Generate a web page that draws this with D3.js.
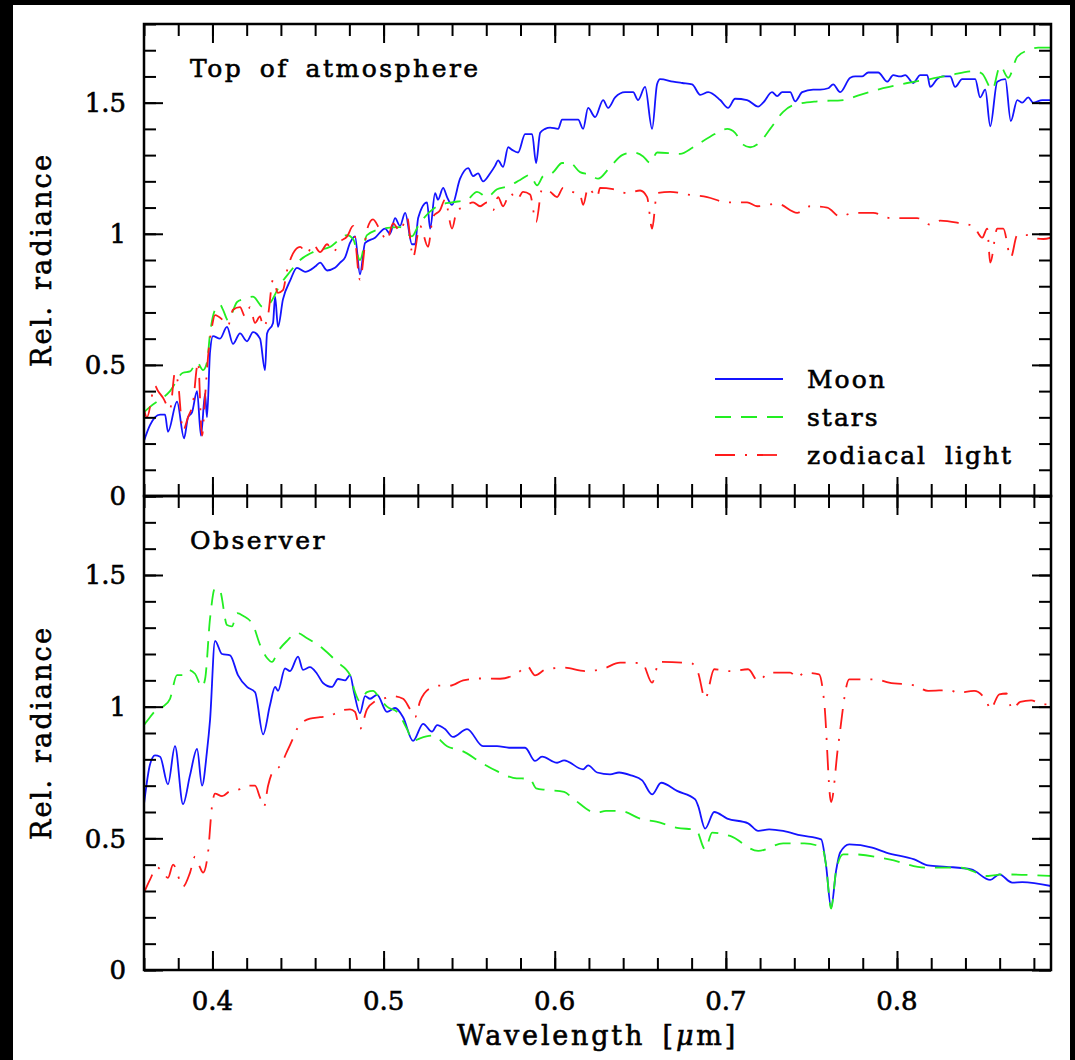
<!DOCTYPE html>
<html>
<head>
<meta charset="utf-8">
<script src="https://cdn.jsdelivr.net/npm/d3@7"></script>
<style>
  body { margin: 0; background: #000; }
  svg { display: block; }
  text { font-family: "DejaVu Serif", serif; fill: #000; stroke: #000; stroke-width: 0.6px; }
</style>
</head>
<body>
<div id="chart"></div>
<script>
// spectra: [wavelength in micron, relative radiance]
const topMoon = [
  [0.360,0.21],[0.3635,0.27],[0.3664,0.30],[0.3694,0.31],[0.3723,0.31],[0.3740,0.245],[0.3793,0.36],
  [0.3834,0.22],[0.3857,0.30],[0.3881,0.32],[0.3910,0.40],[0.3933,0.23],[0.3957,0.39],[0.3968,0.30],
  [0.3986,0.55],[0.4003,0.61],[0.4044,0.60],[0.4085,0.645],[0.4120,0.58],[0.4161,0.62],[0.4202,0.59],
  [0.4237,0.625],[0.4278,0.60],[0.4307,0.48],[0.4319,0.62],[0.4354,0.66],[0.4366,0.76],[0.4383,0.645],
  [0.4412,0.75],[0.4453,0.82],[0.4494,0.87],[0.4541,0.855],[0.4600,0.875],[0.4629,0.89],[0.4670,0.86],
  [0.4716,0.87],[0.4746,0.89],[0.4775,0.91],[0.4804,0.965],[0.4833,0.99],[0.4862,0.845],[0.4892,0.965],
  [0.4950,0.985],[0.5009,1.02],[0.5038,1.0],[0.5067,1.06],[0.5096,1.03],[0.5126,1.08],[0.5166,0.96],
  [0.5184,0.96],[0.5202,1.06],[0.5254,1.12],[0.5272,1.02],[0.5301,1.155],[0.5318,1.13],[0.5348,1.175],
  [0.5371,1.14],[0.5400,1.11],[0.5447,1.21],[0.5494,1.25],[0.5523,1.22],[0.5552,1.23],[0.5581,1.20],
  [0.5622,1.23],[0.5652,1.26],[0.5669,1.28],[0.5698,1.255],[0.5728,1.33],[0.5751,1.32],[0.5786,1.31],
  [0.5827,1.38],[0.5868,1.38],[0.5891,1.27],[0.5915,1.385],[0.5944,1.40],[0.5973,1.405],[0.6020,1.40],
  [0.6043,1.435],[0.6102,1.435],[0.6137,1.435],[0.6166,1.40],[0.6195,1.48],[0.6236,1.445],[0.6283,1.51],
  [0.6312,1.48],[0.6353,1.52],[0.6411,1.54],[0.6458,1.54],[0.6487,1.51],[0.6528,1.56],[0.6569,1.40],
  [0.6598,1.57],[0.6616,1.59],[0.6692,1.58],[0.6745,1.575],[0.6803,1.57],[0.6850,1.53],[0.6897,1.54],
  [0.6967,1.51],[0.7013,1.48],[0.7054,1.515],[0.7124,1.51],[0.7189,1.485],[0.7218,1.50],[0.7270,1.54],
  [0.7300,1.525],[0.7329,1.54],[0.7376,1.54],[0.7405,1.505],[0.7446,1.54],[0.7510,1.55],[0.7551,1.55],
  [0.7598,1.555],[0.7627,1.57],[0.7668,1.54],[0.7727,1.595],[0.7756,1.60],[0.7797,1.60],[0.7832,1.615],
  [0.7890,1.615],[0.7943,1.58],[0.7978,1.605],[0.8019,1.60],[0.8048,1.605],[0.8095,1.575],[0.8136,1.605],
  [0.8177,1.605],[0.8194,1.56],[0.8235,1.59],[0.8264,1.60],[0.8311,1.60],[0.8340,1.56],[0.8381,1.59],
  [0.8457,1.59],[0.8486,1.52],[0.8516,1.55],[0.8545,1.41],[0.8586,1.58],[0.8633,1.59],[0.8665,1.43],
  [0.8703,1.51],[0.8732,1.50],[0.8767,1.52],[0.8796,1.50],[0.8849,1.51],[0.890,1.51]
];
const topStars = [
  [0.360,0.32],[0.3635,0.34],[0.3752,0.40],[0.3828,0.47],[0.3869,0.475],[0.3910,0.51],[0.3945,0.48],
  [0.3968,0.51],[0.3986,0.62],[0.4015,0.71],[0.4044,0.73],[0.4062,0.71],[0.4091,0.67],[0.4144,0.74],
  [0.4179,0.75],[0.4237,0.76],[0.4296,0.72],[0.4336,0.735],[0.4395,0.805],[0.4453,0.855],[0.4512,0.90],
  [0.4588,0.93],[0.4687,0.95],[0.4787,0.995],[0.4822,0.98],[0.4862,0.90],[0.4903,0.995],[0.4997,1.02],
  [0.5096,1.025],[0.5166,0.99],[0.5202,1.03],[0.5330,1.11],[0.5400,1.12],[0.5488,1.13],[0.5546,1.16],
  [0.5605,1.14],[0.5663,1.17],[0.5722,1.18],[0.5798,1.205],[0.5856,1.225],[0.5897,1.185],[0.5932,1.22],
  [0.5991,1.235],[0.6043,1.27],[0.6090,1.27],[0.6148,1.235],[0.6207,1.225],[0.6254,1.21],[0.6318,1.25],
  [0.6394,1.30],[0.6458,1.31],[0.6517,1.295],[0.6558,1.27],[0.6598,1.31],[0.6733,1.305],[0.6809,1.33],
  [0.6908,1.37],[0.7008,1.40],[0.7054,1.385],[0.7101,1.34],[0.7142,1.33],[0.7200,1.35],[0.7259,1.40],
  [0.7335,1.465],[0.7393,1.49],[0.7534,1.505],[0.7686,1.51],[0.7785,1.53],[0.7919,1.555],[0.8060,1.575],
  [0.8194,1.59],[0.8311,1.605],[0.8457,1.62],[0.8498,1.61],[0.8557,1.55],[0.8603,1.64],[0.8650,1.595],
  [0.8703,1.675],[0.8767,1.70],[0.8825,1.71],[0.890,1.71]
];
const topZodi = [
  [0.360,0.33],[0.3617,0.30],[0.3664,0.42],[0.3682,0.40],[0.3711,0.375],[0.3752,0.33],[0.3781,0.47],
  [0.3799,0.43],[0.3828,0.25],[0.3857,0.30],[0.3886,0.355],[0.3916,0.51],[0.3939,0.23],[0.3957,0.38],
  [0.3974,0.53],[0.3997,0.645],[0.4015,0.69],[0.4062,0.67],[0.4091,0.65],[0.4120,0.71],[0.4161,0.72],
  [0.4190,0.685],[0.4220,0.72],[0.4249,0.66],[0.4278,0.685],[0.4296,0.645],[0.4325,0.69],[0.4354,0.825],
  [0.4383,0.775],[0.4412,0.785],[0.4436,0.86],[0.4471,0.925],[0.4512,0.95],[0.4553,0.925],[0.4588,0.96],
  [0.4629,0.93],[0.4670,0.96],[0.4705,0.93],[0.4746,0.97],[0.4787,0.99],[0.4822,1.03],[0.4862,0.825],
  [0.4903,1.015],[0.4938,1.055],[0.4979,1.015],[0.5020,0.975],[0.5055,1.04],[0.5096,1.01],[0.5137,1.065],
  [0.5172,0.91],[0.5213,1.03],[0.5260,0.95],[0.5289,1.065],[0.5330,1.09],[0.5359,1.13],[0.5400,1.02],
  [0.5429,1.09],[0.5465,1.10],[0.5523,1.12],[0.5564,1.105],[0.5605,1.12],[0.5640,1.09],[0.5669,1.14],
  [0.5698,1.105],[0.5739,1.155],[0.5780,1.13],[0.5815,1.16],[0.5856,1.15],[0.5891,1.045],[0.5926,1.17],
  [0.5973,1.16],[0.6014,1.14],[0.6049,1.175],[0.6102,1.16],[0.6148,1.15],[0.6166,1.11],[0.6195,1.175],
  [0.6248,1.14],[0.6265,1.175],[0.6341,1.17],[0.6423,1.155],[0.6499,1.165],[0.6540,1.14],[0.6569,1.02],
  [0.6598,1.155],[0.6674,1.16],[0.6774,1.15],[0.6891,1.14],[0.7008,1.12],[0.7124,1.12],[0.7183,1.105],
  [0.7300,1.115],[0.7417,1.08],[0.7493,1.105],[0.7592,1.10],[0.7668,1.065],[0.7744,1.08],[0.7861,1.08],
  [0.7960,1.06],[0.8036,1.06],[0.8118,1.06],[0.8194,1.035],[0.8253,1.05],[0.8370,1.04],[0.8445,1.03],
  [0.8498,0.985],[0.8527,1.02],[0.8545,0.89],[0.8586,1.02],[0.8621,1.02],[0.8665,0.91],[0.8703,0.995],
  [0.8761,0.995],[0.8796,0.985],[0.8855,0.98],[0.890,0.985]
];
const obsMoon = [
  [0.360,0.63],[0.3635,0.78],[0.3664,0.815],[0.3694,0.81],[0.3740,0.705],[0.3781,0.85],[0.3828,0.63],
  [0.3869,0.74],[0.3910,0.84],[0.3939,0.70],[0.3968,0.83],[0.3986,0.95],[0.4015,1.25],[0.4056,1.20],
  [0.4103,1.195],[0.4149,1.12],[0.4202,1.075],[0.4249,1.055],[0.4296,0.895],[0.4336,1.005],[0.4366,1.075],
  [0.4383,1.06],[0.4424,1.145],[0.4453,1.135],[0.4500,1.19],[0.4529,1.14],[0.4570,1.15],[0.4611,1.125],
  [0.4646,1.09],[0.4699,1.075],[0.4734,1.105],[0.4775,1.10],[0.4804,1.12],[0.4827,1.055],[0.4862,0.975],
  [0.4892,1.04],[0.4921,1.03],[0.4962,1.045],[0.5020,0.98],[0.5067,0.995],[0.5114,0.96],[0.5172,0.87],
  [0.5231,0.935],[0.5283,0.905],[0.5313,0.93],[0.5359,0.915],[0.5406,0.885],[0.5488,0.915],[0.5581,0.85],
  [0.5663,0.85],[0.5733,0.844],[0.5827,0.844],[0.5885,0.794],[0.5926,0.81],[0.6014,0.787],[0.6055,0.796],
  [0.6166,0.762],[0.6195,0.777],[0.6248,0.75],[0.6324,0.743],[0.6376,0.75],[0.6446,0.739],[0.6511,0.72],
  [0.6569,0.667],[0.6622,0.711],[0.6715,0.68],[0.6821,0.648],[0.6838,0.623],[0.6879,0.537],[0.6932,0.60],
  [0.7008,0.575],[0.7130,0.557],[0.7189,0.528],[0.7253,0.534],[0.7335,0.528],[0.7440,0.511],[0.7557,0.496],
  [0.7585,0.40],[0.7615,0.237],[0.7645,0.38],[0.7668,0.446],[0.7721,0.477],[0.7855,0.465],[0.7937,0.446],
  [0.8101,0.42],[0.8182,0.397],[0.8288,0.392],[0.8434,0.382],[0.8545,0.342],[0.8598,0.363],[0.8673,0.332],
  [0.8732,0.334],[0.890,0.319]
];
const obsStars = [
  [0.360,0.93],[0.3635,0.96],[0.3676,0.99],[0.3711,1.0],[0.3752,1.03],[0.3793,1.12],[0.3828,1.12],
  [0.3857,1.14],[0.3898,1.125],[0.3939,1.075],[0.3957,1.105],[0.3986,1.335],[0.4015,1.45],[0.4044,1.44],
  [0.4085,1.31],[0.4114,1.305],[0.4144,1.355],[0.4179,1.345],[0.4237,1.31],[0.4278,1.235],[0.4319,1.185],
  [0.4348,1.17],[0.4383,1.21],[0.4436,1.25],[0.4494,1.28],[0.4553,1.26],[0.4646,1.22],[0.4728,1.17],
  [0.4804,1.12],[0.4833,1.055],[0.4862,1.02],[0.4903,1.055],[0.4938,1.06],[0.4979,1.03],[0.5020,1.0],
  [0.5079,0.98],[0.5137,0.915],[0.5172,0.87],[0.5213,0.88],[0.5289,0.89],[0.5371,0.85],[0.5465,0.83],
  [0.5564,0.79],[0.5663,0.755],[0.5757,0.73],[0.5856,0.725],[0.5891,0.69],[0.5950,0.684],[0.6055,0.676],
  [0.6113,0.648],[0.6242,0.597],[0.6300,0.604],[0.6382,0.604],[0.6511,0.572],[0.6593,0.563],[0.6715,0.54],
  [0.6826,0.532],[0.6879,0.458],[0.6920,0.522],[0.7025,0.509],[0.7189,0.452],[0.7335,0.481],[0.7458,0.481],
  [0.7563,0.465],[0.7585,0.40],[0.7615,0.233],[0.7645,0.38],[0.7686,0.439],[0.7750,0.439],[0.7954,0.42],
  [0.8165,0.389],[0.8370,0.389],[0.8533,0.357],[0.8621,0.363],[0.890,0.357]
];
const obsZodi = [
  [0.360,0.293],[0.3635,0.343],[0.3676,0.39],[0.3711,0.37],[0.3740,0.35],[0.3770,0.40],[0.3828,0.317],
  [0.3869,0.37],[0.3898,0.43],[0.3927,0.39],[0.3945,0.37],[0.3974,0.445],[0.3997,0.62],[0.4015,0.67],
  [0.4056,0.66],[0.4103,0.68],[0.4161,0.687],[0.4202,0.70],[0.4249,0.70],[0.4278,0.655],[0.4301,0.62],
  [0.4325,0.70],[0.4354,0.755],[0.4395,0.775],[0.4436,0.83],[0.4471,0.88],[0.4494,0.915],[0.4570,0.955],
  [0.4629,0.96],[0.4687,0.965],[0.4746,0.985],[0.4804,0.99],[0.4833,0.98],[0.4862,0.915],[0.4903,0.99],
  [0.4950,1.02],[0.4997,1.03],[0.5055,1.04],[0.5114,1.03],[0.5155,0.99],[0.5184,0.96],[0.5213,1.02],
  [0.5272,1.07],[0.5330,1.08],[0.5389,1.08],[0.5465,1.10],[0.5564,1.107],[0.5681,1.106],[0.5786,1.129],
  [0.5839,1.154],[0.5885,1.119],[0.5950,1.142],[0.6055,1.148],[0.6178,1.135],[0.6283,1.144],[0.6382,1.167],
  [0.6511,1.165],[0.6569,1.091],[0.6610,1.17],[0.6797,1.165],[0.6838,1.129],[0.6879,1.03],[0.6932,1.142],
  [0.7025,1.135],[0.7130,1.142],[0.7189,1.097],[0.7253,1.129],[0.7376,1.129],[0.7417,1.11],[0.7458,1.129],
  [0.7545,1.123],[0.7575,1.015],[0.7615,0.638],[0.7656,0.85],[0.7721,1.104],[0.7873,1.104],[0.7954,1.091],
  [0.8101,1.081],[0.8182,1.06],[0.8311,1.063],[0.8352,1.053],[0.8451,1.06],[0.8527,1.015],[0.8545,0.99],
  [0.8598,1.047],[0.8639,1.05],[0.8673,0.99],[0.8720,1.018],[0.8784,1.024],[0.8849,1.009],[0.890,1.009]
];

const seriesNames = ["Moon", "stars", "zodiacal light"];
const panelTitles = ["Top of atmosphere", "Observer"];
const xMajorTicks = [0.4, 0.5, 0.6, 0.7, 0.8];
const yMajorTicks = [0, 0.5, 1, 1.5];

const W = 1075, H = 1060;
const left = 144, right = 1051;
const panels = [
  { top: 24, bottom: 496, title: panelTitles[0], data: [topMoon, topStars, topZodi], legend: true },
  { top: 496, bottom: 970, title: panelTitles[1], data: [obsMoon, obsStars, obsZodi], legend: false }
];
const styles = [
  { color: "#1414ff", dash: null },
  { color: "#22ee22", dash: "16,10" },
  { color: "#ff1a1a", dash: "20,10,2,10" }
];

const svg = d3.select("#chart").append("svg").attr("width", W).attr("height", H);
// black frame round the white page
svg.append("rect").attr("width", W).attr("height", H).attr("fill", "#000");
svg.append("rect").attr("x", 13).attr("y", 5).attr("width", 1057).attr("height", H - 5).attr("fill", "#fff");

const x = d3.scaleLinear().domain([0.36, 0.89]).range([left, right]);
const xMinor = d3.range(18, 45).map(i => i / 50);
const yMinor = d3.range(0, 19).map(i => i / 10);

panels.forEach((p, i) => {
  const y = d3.scaleLinear().domain([0, 1.8]).range([p.bottom, p.top]);
  const g = svg.append("g");

  g.append("clipPath").attr("id", "clip" + i)
    .append("rect").attr("x", left).attr("y", p.top).attr("width", right - left).attr("height", p.bottom - p.top);

  // curves
  const line = d3.line().x(d => x(d[0])).y(d => y(d[1])).curve(d3.curveMonotoneX);
  p.data.forEach((s, k) => {
    g.append("path").datum(s)
      .attr("clip-path", `url(#clip${i})`)
      .attr("fill", "none")
      .attr("stroke", styles[k].color)
      .attr("stroke-width", 1.8)
      .attr("stroke-dasharray", styles[k].dash)
      .attr("d", line);
  });

  // ticks on all four sides, pointing inward
  const addAxis = (axis, tx, ty) => {
    const a = g.append("g").attr("transform", `translate(${tx},${ty})`).call(axis);
    a.select(".domain").remove();
    a.selectAll("line").attr("stroke", "#000").attr("stroke-width", 2);
    return a;
  };
  addAxis(d3.axisBottom(x).tickValues(xMinor).tickSize(-12).tickFormat(""), 0, p.bottom);
  addAxis(d3.axisBottom(x).tickValues(xMajorTicks).tickSize(-19).tickFormat(""), 0, p.bottom);
  addAxis(d3.axisTop(x).tickValues(xMinor).tickSize(-12).tickFormat(""), 0, p.top);
  addAxis(d3.axisTop(x).tickValues(xMajorTicks).tickSize(-19).tickFormat(""), 0, p.top);
  addAxis(d3.axisLeft(y).tickValues(yMinor).tickSize(-12).tickFormat(""), left, 0);
  addAxis(d3.axisLeft(y).tickValues(yMajorTicks).tickSize(-19).tickFormat(""), left, 0);
  addAxis(d3.axisRight(y).tickValues(yMinor).tickSize(-12).tickFormat(""), right, 0);
  addAxis(d3.axisRight(y).tickValues(yMajorTicks).tickSize(-19).tickFormat(""), right, 0);

  // y tick labels
  g.selectAll(".ylab").data(yMajorTicks).join("text")
    .attr("x", 126).attr("y", d => y(d)).attr("dy", "0.36em")
    .attr("text-anchor", "end").attr("font-size", 26)
    .text(d => String(d));

  g.append("rect").attr("x", left).attr("y", p.top).attr("width", right - left).attr("height", p.bottom - p.top)
    .attr("fill", "none").attr("stroke", "#000").attr("stroke-width", 2.5);

  g.append("text").attr("x", 190).attr("y", p.top + 53)
    .attr("font-size", 25).attr("letter-spacing", 2.5).attr("word-spacing", 6)
    .text(p.title);

  g.append("text")
    .attr("transform", `translate(51,${(p.top + p.bottom) / 2}) rotate(-90)`)
    .attr("text-anchor", "middle").attr("font-size", 27).attr("letter-spacing", 2.2).attr("word-spacing", 4)
    .text("Rel. radiance");

  if (p.legend) {
    const ly = [379, 417, 455];
    seriesNames.forEach((name, k) => {
      g.append("line").attr("x1", 715).attr("x2", 783).attr("y1", ly[k]).attr("y2", ly[k])
        .attr("stroke", styles[k].color).attr("stroke-width", 1.8)
        .attr("stroke-dasharray", styles[k].dash);
      g.append("text").attr("x", 807).attr("y", ly[k] + 9)
        .attr("font-size", 25).attr("letter-spacing", 2).attr("word-spacing", 8)
        .text(name);
    });
  }
});

// x tick labels and title
svg.selectAll(".xlab").data(xMajorTicks).join("text")
  .attr("x", d => x(d)).attr("y", 1010)
  .attr("text-anchor", "middle").attr("font-size", 26)
  .text(d => String(d));

const xt = svg.append("text").attr("x", (left + right) / 2).attr("y", 1045)
  .attr("text-anchor", "middle").attr("font-size", 27).attr("letter-spacing", 2.8).attr("word-spacing", 6);
xt.append("tspan").text("Wavelength [");
xt.append("tspan").attr("font-style", "italic").text("\u03bc");
xt.append("tspan").text("m]");
</script>
</body>
</html>
